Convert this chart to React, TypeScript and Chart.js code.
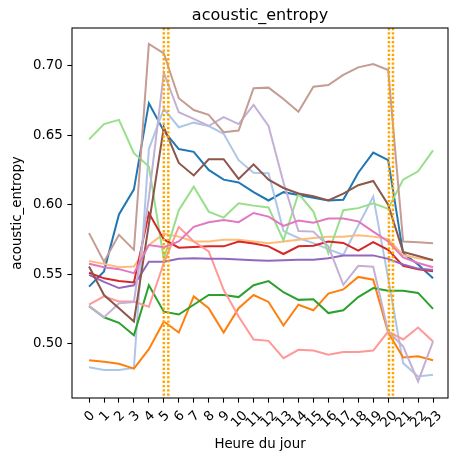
import React, { useEffect, useRef } from "react";
import { Chart, registerables } from "chart.js";

Chart.register(...registerables);

const hours = [0, 1, 2, 3, 4, 5, 6, 7, 8, 9, 10, 11, 12, 13, 14, 15, 16, 17, 18, 19, 20, 21, 22, 23];
const yTicks = [0.5, 0.55, 0.6, 0.65, 0.7];
const sunLines = [5.0, 5.3, 20.05, 20.32];

const s1 = [0.541, 0.552, 0.593, 0.611, 0.673, 0.653, 0.640, 0.638, 0.625, 0.618, 0.616, 0.609, 0.603, 0.609, 0.607, 0.605, 0.603, 0.6035, 0.623, 0.6375, 0.632, 0.565, 0.557, 0.547];
const s2 = [0.483, 0.481, 0.481, 0.4825, 0.64, 0.669, 0.6557, 0.659, 0.6566, 0.651, 0.632, 0.623, 0.6226, 0.581, 0.576, 0.5723, 0.568, 0.5638, 0.585, 0.6058, 0.547, 0.486, 0.4764, 0.4776];
const s3 = [0.488, 0.487, 0.4855, 0.482, 0.496, 0.516, 0.508, 0.534, 0.5255, 0.508, 0.5255, 0.535, 0.530, 0.513, 0.528, 0.524, 0.536, 0.539, 0.548, 0.546, 0.508, 0.490, 0.491, 0.488];
const s4 = [0.5595, 0.5574, 0.555, 0.5555, 0.571, 0.579, 0.577, 0.5735, 0.5735, 0.5747, 0.5747, 0.5735, 0.5723, 0.5735, 0.5747, 0.576, 0.577, 0.577, 0.578, 0.577, 0.5752, 0.5638, 0.5615, 0.5603];
const s5 = [0.527, 0.519, 0.515, 0.506, 0.542, 0.523, 0.521, 0.528, 0.535, 0.535, 0.5335, 0.542, 0.545, 0.537, 0.5315, 0.532, 0.522, 0.524, 0.5335, 0.540, 0.538, 0.538, 0.5365, 0.525];
const s6 = [0.647, 0.658, 0.661, 0.637, 0.6274, 0.561, 0.596, 0.613, 0.595, 0.5907, 0.601, 0.5993, 0.598, 0.5742, 0.608, 0.595, 0.565, 0.596, 0.5975, 0.601, 0.597, 0.618, 0.624, 0.639];
const s7 = [0.551, 0.547, 0.545, 0.544, 0.594, 0.575, 0.569, 0.5695, 0.570, 0.570, 0.5735, 0.572, 0.570, 0.5645, 0.570, 0.5705, 0.5735, 0.5725, 0.567, 0.573, 0.5675, 0.556, 0.5535, 0.552];
const s8 = [0.528, 0.534, 0.5303, 0.5303, 0.5265, 0.558, 0.584, 0.5735, 0.5663, 0.5387, 0.5195, 0.503, 0.502, 0.4896, 0.4956, 0.495, 0.492, 0.494, 0.494, 0.495, 0.5087, 0.503, 0.5116, 0.5016];
const s9 = [0.5495, 0.5445, 0.540, 0.542, 0.559, 0.559, 0.561, 0.5615, 0.561, 0.561, 0.5605, 0.560, 0.5597, 0.560, 0.5603, 0.5603, 0.5615, 0.5635, 0.5635, 0.5635, 0.561, 0.557, 0.554, 0.553];
const s10 = [0.527, 0.519, 0.529, 0.530, 0.605, 0.695, 0.6665, 0.6617, 0.6566, 0.663, 0.658, 0.6717, 0.6566, 0.616, 0.581, 0.5806, 0.570, 0.5423, 0.556, 0.5553, 0.5087, 0.498, 0.4728, 0.5016];
const s11 = [0.5555, 0.535, 0.5255, 0.516, 0.586, 0.6557, 0.630, 0.621, 0.6327, 0.6327, 0.6185, 0.629, 0.618, 0.612, 0.608, 0.606, 0.603, 0.608, 0.614, 0.617, 0.600, 0.566, 0.563, 0.560];
const s12 = [0.5795, 0.559, 0.5783, 0.5675, 0.7156, 0.7089, 0.6766, 0.6681, 0.6646, 0.6521, 0.6533, 0.6838, 0.6842, 0.676, 0.6669, 0.6849, 0.6861, 0.6933, 0.6988, 0.7012, 0.6969, 0.5735, 0.573, 0.5723];
const s13 = [0.5575, 0.555, 0.5536, 0.5507, 0.571, 0.5694, 0.5735, 0.584, 0.5874, 0.589, 0.5874, 0.594, 0.5914, 0.5847, 0.5886, 0.587, 0.590, 0.590, 0.588, 0.5806, 0.5735, 0.562, 0.558, 0.555];

const seriesList = [s1, s2, s3, s4, s5, s6, s7, s8, s9, s10, s11, s12, s13];
const colors = ["#1f77b4", "#aec7e8", "#ff7f0e", "#ffbb78", "#2ca02c", "#98df8a", "#d62728", "#ff9896", "#9467bd", "#c5b0d5", "#8c564b", "#c49c94", "#e377c2"];

const FONT = "DejaVu Sans";
const TICK_PX = 13.33;

const decor = {
  id: "decor",
  afterDatasetsDraw(chart: any) {
    const { ctx, chartArea } = chart;
    const xs = chart.scales.x;
    ctx.save();
    ctx.strokeStyle = "#ffa500";
    ctx.lineWidth = 2.5;
    ctx.setLineDash([2.3, 2]);
    for (const v of sunLines) {
      const px = xs.getPixelForValue(v);
      ctx.beginPath();
      ctx.moveTo(px, chartArea.top);
      ctx.lineTo(px, chartArea.bottom);
      ctx.stroke();
    }
    ctx.restore();
  },
  afterDraw(chart: any) {
    const { ctx, chartArea } = chart;
    const xs = chart.scales.x;
    ctx.save();
    // frame
    ctx.strokeStyle = "#000";
    ctx.lineWidth = 1.07;
    ctx.strokeRect(chartArea.left, chartArea.top, chartArea.right - chartArea.left, chartArea.bottom - chartArea.top);
    // x tick labels rotated 45°, centered on tick
    ctx.fillStyle = "#000";
    ctx.font = `${TICK_PX}px "${FONT}"`;
    const hBox = TICK_PX * 1.164;
    for (const h of hours) {
      const t = String(h);
      const w = ctx.measureText(t).width;
      const cx = xs.getPixelForValue(h);
      const cy = chartArea.bottom + 9.33 + ((w + hBox) * Math.SQRT1_2) / 2;
      ctx.save();
      ctx.translate(cx, cy);
      ctx.rotate(-Math.PI / 4);
      ctx.textAlign = "center";
      ctx.textBaseline = "alphabetic";
      ctx.fillText(t, 0, TICK_PX * 0.346);
      ctx.restore();
    }
    // x title
    const midX = (chartArea.left + chartArea.right) / 2;
    ctx.textAlign = "center";
    ctx.textBaseline = "alphabetic";
    ctx.fillText("Heure du jour", midX, 447.5);
    // y title
    ctx.save();
    ctx.translate(21, (chartArea.top + chartArea.bottom) / 2);
    ctx.rotate(-Math.PI / 2);
    ctx.textAlign = "center";
    ctx.textBaseline = "alphabetic";
    ctx.fillText("acoustic_entropy", 0, 0);
    ctx.restore();
    // title
    ctx.font = `16px "${FONT}"`;
    ctx.fillText("acoustic_entropy", midX, chartArea.top - 8);
    ctx.restore();
  },
};

export default function App() {
  const ref = useRef<HTMLCanvasElement | null>(null);
  useEffect(() => {
    if (!ref.current) return;
    const datasets = seriesList.map((s, i) => ({
      label: `Série ${i + 1}`,
      data: hours.map((h, j) => ({ x: h, y: s[j] })),
      borderColor: colors[i],
      backgroundColor: colors[i],
      borderWidth: 2,
      pointRadius: 0,
      tension: 0,
      fill: false,
      order: seriesList.length - i,
    }));
    const chart = new Chart(ref.current, {
      type: "line",
      data: { datasets },
      plugins: [decor],
      options: {
        animation: false,
        responsive: false,
        devicePixelRatio: 1,
        layout: { padding: { top: 28, right: 1, left: 0, bottom: 0 } },
        plugins: { legend: { display: false }, tooltip: { enabled: false }, title: { display: false } },
        scales: {
          x: {
            type: "linear",
            min: -1.14,
            max: 24.0,
            afterBuildTicks: (scale: any) => {
              scale.ticks = hours.map((v) => ({ value: v }));
            },
            afterFit: (scale: any) => {
              scale.height = 63;
            },
            ticks: { display: false },
            border: { display: false },
            grid: { drawOnChartArea: false, drawTicks: true, tickLength: 4.67, tickWidth: 1.07, tickColor: "#000" },
          },
          y: {
            type: "linear",
            min: 0.4609,
            max: 0.7271,
            afterBuildTicks: (scale: any) => {
              scale.ticks = yTicks.map((v) => ({ value: v }));
            },
            afterFit: (scale: any) => {
              scale.width = 72;
            },
            ticks: {
              color: "#000",
              padding: 4.67,
              font: { family: FONT, size: TICK_PX },
              callback: (v: any) => Number(v).toFixed(2),
            },
            border: { display: false },
            grid: { drawOnChartArea: false, drawTicks: true, tickLength: 4.67, tickWidth: 1.07, tickColor: "#000" },
          },
        },
      },
    } as any);
    return () => chart.destroy();
  }, []);
  return (
    <div style={{ position: "absolute", left: 0, top: 0, width: 449, height: 461, background: "#fff" }}>
      <canvas ref={ref} width={449} height={461} style={{ width: 449, height: 461, display: "block" }} />
    </div>
  );
}
